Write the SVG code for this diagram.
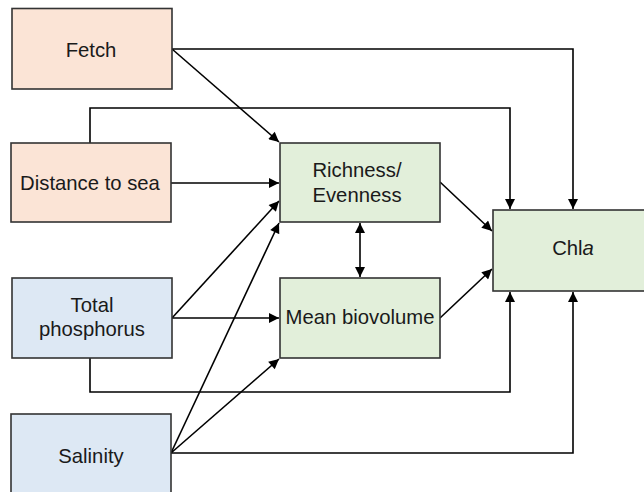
<svg xmlns="http://www.w3.org/2000/svg" width="644" height="492" viewBox="0 0 644 492">
<style>
.box{stroke:#333;stroke-width:1.6}
.peach{fill:#fbe4d6}
.blue{fill:#dde8f4}
.green{fill:#e2efda}
text{font-family:"Liberation Sans",Arial,sans-serif;font-size:20.3px;fill:#1a1a1a;text-anchor:middle}
.c{fill:none;stroke:#000;stroke-width:1.6}
</style>
<defs>
<marker id="ah" viewBox="0 0 10 10" refX="10" refY="5" markerWidth="11" markerHeight="10" markerUnits="userSpaceOnUse" orient="auto-start-reverse">
<path d="M0,0 L10,5 L0,10 z" fill="#000"/>
</marker>
</defs>
<rect width="644" height="492" fill="#fff"/>
<g id="connectors">
<path class="c" d="M172,49 H573 V209" marker-end="url(#ah)"/>
<path class="c" d="M172,49 L279,142" marker-end="url(#ah)"/>
<path class="c" d="M90,143 V108 H510 V209" marker-end="url(#ah)"/>
<path class="c" d="M171,183 H279" marker-end="url(#ah)"/>
<path class="c" d="M440,182 L492,231" marker-end="url(#ah)"/>
<path class="c" d="M360,223 V277" marker-start="url(#ah)" marker-end="url(#ah)"/>
<path class="c" d="M440,318 L492,269" marker-end="url(#ah)"/>
<path class="c" d="M172,318 L279,201" marker-end="url(#ah)"/>
<path class="c" d="M172,318 H279" marker-end="url(#ah)"/>
<path class="c" d="M90,358 V392 H510 V292" marker-end="url(#ah)"/>
<path class="c" d="M171,453 L279,223" marker-end="url(#ah)"/>
<path class="c" d="M171,453 L279,359" marker-end="url(#ah)"/>
<path class="c" d="M171,453 H573 V292" marker-end="url(#ah)"/>
</g>
<g id="fetch">
<rect class="box peach" x="12" y="8.5" width="160" height="80.5"/>
<text x="91" y="57">Fetch</text>
</g>
<g id="distance">
<rect class="box peach" x="11" y="143" width="160" height="79"/>
<text x="90" y="190">Distance to sea</text>
</g>
<g id="phosphorus">
<rect class="box blue" x="12" y="278" width="160" height="80"/>
<text x="92" y="312">Total</text>
<text x="92" y="336">phosphorus</text>
</g>
<g id="salinity">
<rect class="box blue" x="11" y="414" width="160" height="90"/>
<text x="91" y="463">Salinity</text>
</g>
<g id="richness">
<rect class="box green" x="280" y="143" width="160" height="79"/>
<text x="357" y="177">Richness/</text>
<text x="357" y="202">Evenness</text>
</g>
<g id="biovolume">
<rect class="box green" x="280" y="278" width="160" height="80"/>
<text x="360" y="324">Mean biovolume</text>
</g>
<g id="chla">
<rect class="box green" x="493" y="210" width="160" height="81"/>
<text x="573" y="255">Chl<tspan font-style="italic">a</tspan></text>
</g>
</svg>
